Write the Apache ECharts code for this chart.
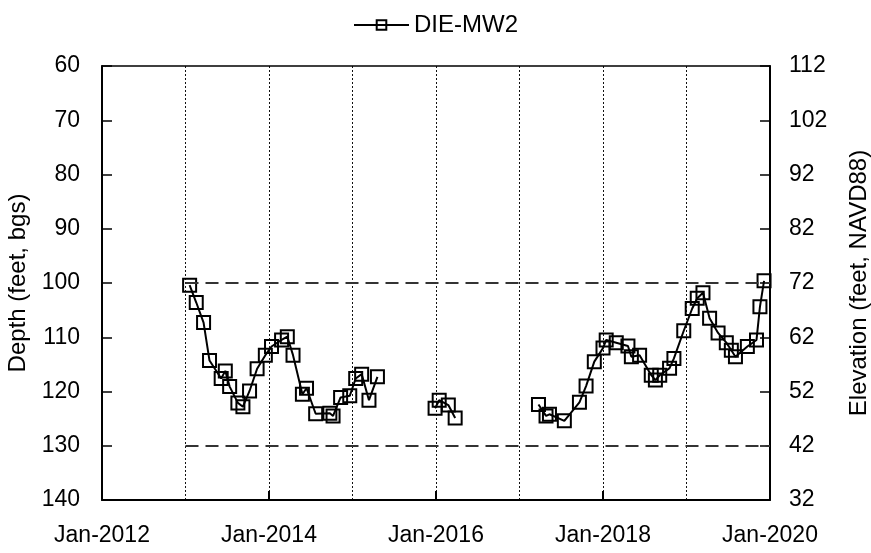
<!DOCTYPE html>
<html>
<head>
<meta charset="utf-8">
<script src="https://cdn.jsdelivr.net/npm/echarts@6/dist/echarts.min.js"></script>
<style>
  html, body { margin: 0; padding: 0; background: #fff; }
  #chart { width: 871px; height: 553px; }
</style>
</head>
<body>
<div id="chart"></div>
<script>
// sample dates and depth below ground surface (feet); null marks a gap in the record
const sampleDates = [
  '2013-01-19', '2013-02-17', '2013-03-21', '2013-04-16', '2013-06-06', '2013-06-24',
  '2013-07-13', '2013-08-18', '2013-09-09', '2013-10-08', '2013-11-10', '2013-12-16',
  '2014-01-12', '2014-02-25', '2014-03-22', '2014-04-16', '2014-05-27', '2014-06-14',
  '2014-07-24', '2014-09-24', '2014-10-08', '2014-11-10', '2014-12-20', '2015-01-15',
  '2015-02-10', '2015-03-14', '2015-04-20',
  '2015-08-01',
  '2015-12-28', '2016-01-15', '2016-02-24', '2016-03-25',
  '2016-08-01',
  '2017-03-25', '2017-04-27', '2017-05-12', '2017-07-16', '2017-09-20', '2017-10-19',
  '2017-11-24', '2018-01-01', '2018-01-15', '2018-02-28', '2018-04-20', '2018-05-05',
  '2018-06-10', '2018-07-31', '2018-08-18', '2018-09-06', '2018-10-19', '2018-11-07',
  '2018-12-20', '2019-01-26', '2019-02-17', '2019-03-14', '2019-04-12', '2019-05-19',
  '2019-06-24', '2019-07-16', '2019-08-03', '2019-09-24', '2019-11-03', '2019-11-18',
  '2019-12-06'
];
const depthValues = [
  100.4, 103.6, 107.3, 114.3, 117.6, 116.2,
  119.1, 122.1, 122.8, 119.9, 115.8, 113.3,
  111.7, 110.5, 109.9, 113.3, 120.5, 119.4,
  124.1, 124.0, 124.5, 121.1, 120.8, 117.6,
  116.8, 121.6, 117.3,
  null,
  123.1, 121.6, 122.5, 124.9,
  null,
  122.4, 124.5, 124.2, 125.4, 122.0, 119.0,
  114.5, 112.0, 110.5, 111.0, 111.6, 113.6,
  113.3, 117.0, 117.9, 117.0, 115.7, 113.9,
  108.8, 104.7, 102.8, 101.8, 106.5, 109.2,
  111.0, 112.4, 113.6, 111.7, 110.5, 104.4,
  99.6
];
const refDepths = [100, 130];
const refStartYear = 2013;
const xRange = [2012, 2020];
const depthRange = [60, 140];
const elevRange = [32, 112];

const font = "'Liberation Sans', Arial, sans-serif";

// date string -> fractional year so the value axis spaces points by time
const toYear = (s) => {
  const d = new Date(s + 'T00:00:00Z');
  const y = d.getUTCFullYear();
  const a = Date.UTC(y, 0, 1), b = Date.UTC(y + 1, 0, 1);
  return y + (d.getTime() - a) / (b - a);
};

const seriesData = sampleDates.map((s, i) => [toYear(s), depthValues[i] == null ? '-' : depthValues[i]]);

const chart = echarts.init(document.getElementById('chart'));
const option = {
  animation: false,
  backgroundColor: '#fff',
  textStyle: { fontFamily: font, color: '#000' },
  legend: {
    top: 8,
    left: 'center',
    itemWidth: 55,
    itemHeight: 12,
    textStyle: { fontSize: 24, color: '#000', fontFamily: font },
    data: ['DIE-MW2']
  },
  grid: { left: 102, right: 101, top: 66, bottom: 53, containLabel: false, outerBoundsMode: 'none' },
  xAxis: [{
    type: 'value',
    min: xRange[0],
    max: xRange[1],
    interval: 2,
    axisLine: { show: true, lineStyle: { color: '#000', width: 2 } },
    axisTick: { show: true, inside: true, length: 9, lineStyle: { color: '#000', width: 2 } },
    axisLabel: {
      fontSize: 23, color: '#000', fontFamily: font, margin: 24,
      formatter: (v) => 'Jan-' + Math.round(v)
    },
    splitLine: { show: false }
  }, {
    type: 'value',
    position: 'top',
    min: xRange[0],
    max: xRange[1],
    interval: 1,
    axisLine: { show: true, onZero: false, lineStyle: { color: '#000', width: 1.5 } },
    axisTick: { show: false },
    axisLabel: { show: false },
    splitLine: { show: true, lineStyle: { color: '#111', width: 1, type: [2, 2] } }
  }],
  yAxis: [{
    type: 'value',
    inverse: true,
    min: depthRange[0],
    max: depthRange[1],
    interval: 10,
    name: 'Depth (feet, bgs)',
    nameLocation: 'middle',
    nameRotate: 90,
    nameGap: 62,
    nameTextStyle: { fontSize: 24, color: '#000', fontFamily: font },
    axisLine: { show: true, lineStyle: { color: '#000', width: 2 } },
    axisTick: { show: true, inside: true, length: 10, lineStyle: { color: '#000', width: 1.5 } },
    axisLabel: { fontSize: 23, color: '#000', fontFamily: font, margin: 22 },
    splitLine: { show: false }
  }, {
    type: 'value',
    position: 'right',
    min: elevRange[0],
    max: elevRange[1],
    interval: 10,
    name: 'Elevation (feet, NAVD88)',
    nameLocation: 'middle',
    nameRotate: 90,
    nameGap: 77,
    nameTextStyle: { fontSize: 24, color: '#000', fontFamily: font },
    axisLine: { show: true, lineStyle: { color: '#000', width: 2 } },
    axisTick: { show: true, inside: true, length: 10, lineStyle: { color: '#000', width: 1.5 } },
    axisLabel: { fontSize: 23, color: '#000', fontFamily: font, margin: 19 },
    splitLine: { show: false }
  }],
  series: [{
    name: 'DIE-MW2',
    type: 'line',
    xAxisIndex: 0,
    yAxisIndex: 0,
    data: seriesData,
    connectNulls: false,
    symbol: 'rect',
    symbolSize: 13,
    lineStyle: { color: '#000', width: 2 },
    itemStyle: { color: 'rgba(255,255,255,0)', borderColor: '#000', borderWidth: 2 },
    markLine: {
      silent: true,
      symbol: 'none',
      label: { show: false },
      lineStyle: { color: '#333', width: 2, type: [13, 7] },
      data: refDepths.map((d) => [{ coord: [refStartYear, d] }, { coord: [xRange[1], d] }])
    }
  }]
};
chart.setOption(option);
</script>
</body>
</html>
